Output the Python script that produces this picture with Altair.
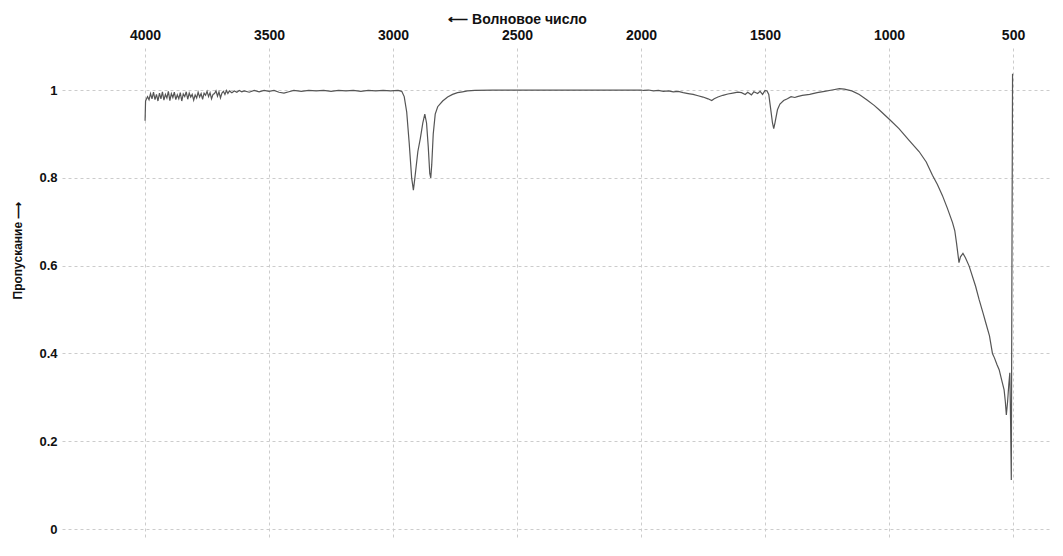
import altair as alt
import pandas as pd

wavenumber = [
    4000, 3998, 3990, 3984, 3978, 3972, 3966, 3960, 3954, 3948, 3942, 3936, 3930, 3924, 3918,
    3912, 3906, 3900, 3894, 3888, 3882, 3876, 3870, 3864, 3858, 3852, 3846, 3840, 3834, 3828,
    3822, 3816, 3810, 3804, 3798, 3792, 3786, 3780, 3774, 3768, 3762, 3756, 3750, 3744, 3738,
    3732, 3726, 3720, 3714, 3708, 3702, 3696, 3690, 3684, 3678, 3672, 3666, 3660, 3650, 3640,
    3630, 3620, 3610, 3600, 3580, 3560, 3540, 3520, 3500, 3480, 3460, 3440, 3420, 3400, 3370,
    3340, 3310, 3280, 3250, 3220, 3190, 3160, 3130, 3100, 3070, 3040, 3010, 2980, 2965, 2955,
    2945, 2935, 2925, 2918, 2912, 2900, 2890, 2880, 2872, 2865, 2858, 2852, 2848, 2844, 2838,
    2830, 2820, 2800, 2780, 2760, 2740, 2720, 2700, 2670, 2600, 2500, 2300, 2100, 2000, 1990,
    1970, 1950, 1930, 1910, 1890, 1870, 1850, 1830, 1810, 1790, 1770, 1750, 1730, 1715, 1705,
    1690, 1670, 1650, 1630, 1610, 1595, 1580, 1570, 1555, 1545, 1530, 1520, 1510, 1500, 1492,
    1485, 1478, 1470, 1465, 1460, 1450, 1440, 1425, 1410, 1395, 1380, 1370, 1350, 1320, 1290,
    1260, 1230, 1200, 1180, 1150, 1120, 1090, 1060, 1040, 1000, 960, 920, 879, 850, 825,
    805, 785, 765, 744, 735, 728, 722, 718, 712, 702, 692, 677, 651, 637, 620,
    610, 595, 583, 575, 565, 556, 546, 536, 531, 527, 522, 517, 513, 510, 507,
    505, 502,
]

transmittance = [
    0.930, 0.975, 0.985, 0.978, 0.992, 0.980, 0.995, 0.978, 0.990, 0.975, 0.993, 0.980, 0.996, 0.977, 0.990,
    0.982, 0.997, 0.976, 0.992, 0.983, 0.995, 0.978, 0.989, 0.980, 0.994, 0.975, 0.991, 0.985, 0.996, 0.979,
    0.993, 0.984, 0.990, 0.977, 0.989, 0.982, 0.995, 0.984, 0.992, 0.979, 0.993, 0.988, 0.997, 0.985, 0.994,
    0.980, 0.990, 0.992, 0.998, 0.986, 0.996, 0.982, 0.993, 0.997, 0.990, 0.999, 0.992, 0.998, 0.994, 0.998,
    0.995, 0.999, 0.996, 0.998, 0.995, 0.999, 0.996, 0.999, 0.997, 0.999, 0.995, 0.993, 0.996, 0.999, 0.997,
    0.999, 0.998, 0.999, 0.997, 0.999, 0.998, 0.999, 0.997, 0.999, 0.998, 0.999, 0.998, 0.999, 0.997, 0.985,
    0.950, 0.880, 0.800, 0.772, 0.800, 0.860, 0.890, 0.925, 0.945, 0.925, 0.870, 0.810, 0.800, 0.830, 0.900,
    0.945, 0.962, 0.975, 0.984, 0.990, 0.994, 0.996, 0.998, 0.999, 1.000, 1.000, 1.000, 1.000, 1.000, 0.999,
    1.000, 0.998, 0.999, 0.997, 0.998, 0.996, 0.997, 0.994, 0.992, 0.990, 0.987, 0.984, 0.980, 0.976, 0.980,
    0.984, 0.988, 0.991, 0.993, 0.995, 0.994, 0.990, 0.995, 0.989, 0.996, 0.992, 0.997, 0.990, 0.999, 0.998,
    0.990, 0.960, 0.925, 0.912, 0.925, 0.955, 0.968, 0.976, 0.980, 0.985, 0.983, 0.985, 0.988, 0.990, 0.994,
    0.997, 1.000, 1.003, 1.002, 0.998, 0.990, 0.978, 0.965, 0.955, 0.934, 0.912, 0.886, 0.860, 0.836, 0.806,
    0.785, 0.760, 0.731, 0.698, 0.680, 0.652, 0.625, 0.607, 0.620, 0.628, 0.618, 0.599, 0.553, 0.523, 0.490,
    0.470, 0.440, 0.400, 0.390, 0.375, 0.363, 0.340, 0.317, 0.290, 0.260, 0.290, 0.330, 0.356, 0.250, 0.112,
    0.500, 1.037,
]

x_ticks = [4000, 3500, 3000, 2500, 2000, 1500, 1000, 500]
y_ticks = [0, 0.2, 0.4, 0.6, 0.8, 1]

df = pd.DataFrame({"wn": wavenumber, "t": transmittance, "order": list(range(len(wavenumber)))})

FONT = "Liberation Sans"

chart = alt.Chart(df).mark_line(color="#555555", strokeWidth=1.2).encode(
    x=alt.X(
        "wn:Q",
        scale=alt.Scale(domain=[355, 4339], reverse=True, nice=False, zero=False),
        axis=alt.Axis(
            orient="top",
            values=x_ticks,
            format="d",
            title="⟵ Волновое число",
            titleX=456,
            titleY=-28,
            titleAlign="center",
            titleBaseline="middle",
            titleFontSize=14,
            labelFontSize=14,
            labelPadding=5,
        ),
    ),
    y=alt.Y(
        "t:Q",
        scale=alt.Scale(domain=[-0.018, 1.098], nice=False, zero=False),
        axis=alt.Axis(
            values=y_ticks,
            format="~g",
            title="Пропускание ⟶",
            titleX=-44,
            titleY=203,
            titleAngle=270,
            titleAlign="center",
            titleBaseline="middle",
            titleFontSize=12,
            labelFontSize=13,
            labelPadding=4,
        ),
    ),
    order="order:Q",
).properties(
    width=988,
    height=490,
    padding={"left": 3, "top": 4, "right": 5, "bottom": 5},
).configure_view(
    stroke=None
).configure_axis(
    domain=False,
    ticks=False,
    grid=True,
    gridColor="#cccccc",
    gridDash=[3, 3],
    gridWidth=1,
    labelFont=FONT,
    labelFontWeight="bold",
    labelColor="#111111",
    titleFont=FONT,
    titleFontWeight="bold",
    titleColor="#111111",
)

chart.save("out.html", embed_options={"renderer": "svg", "actions": False})
